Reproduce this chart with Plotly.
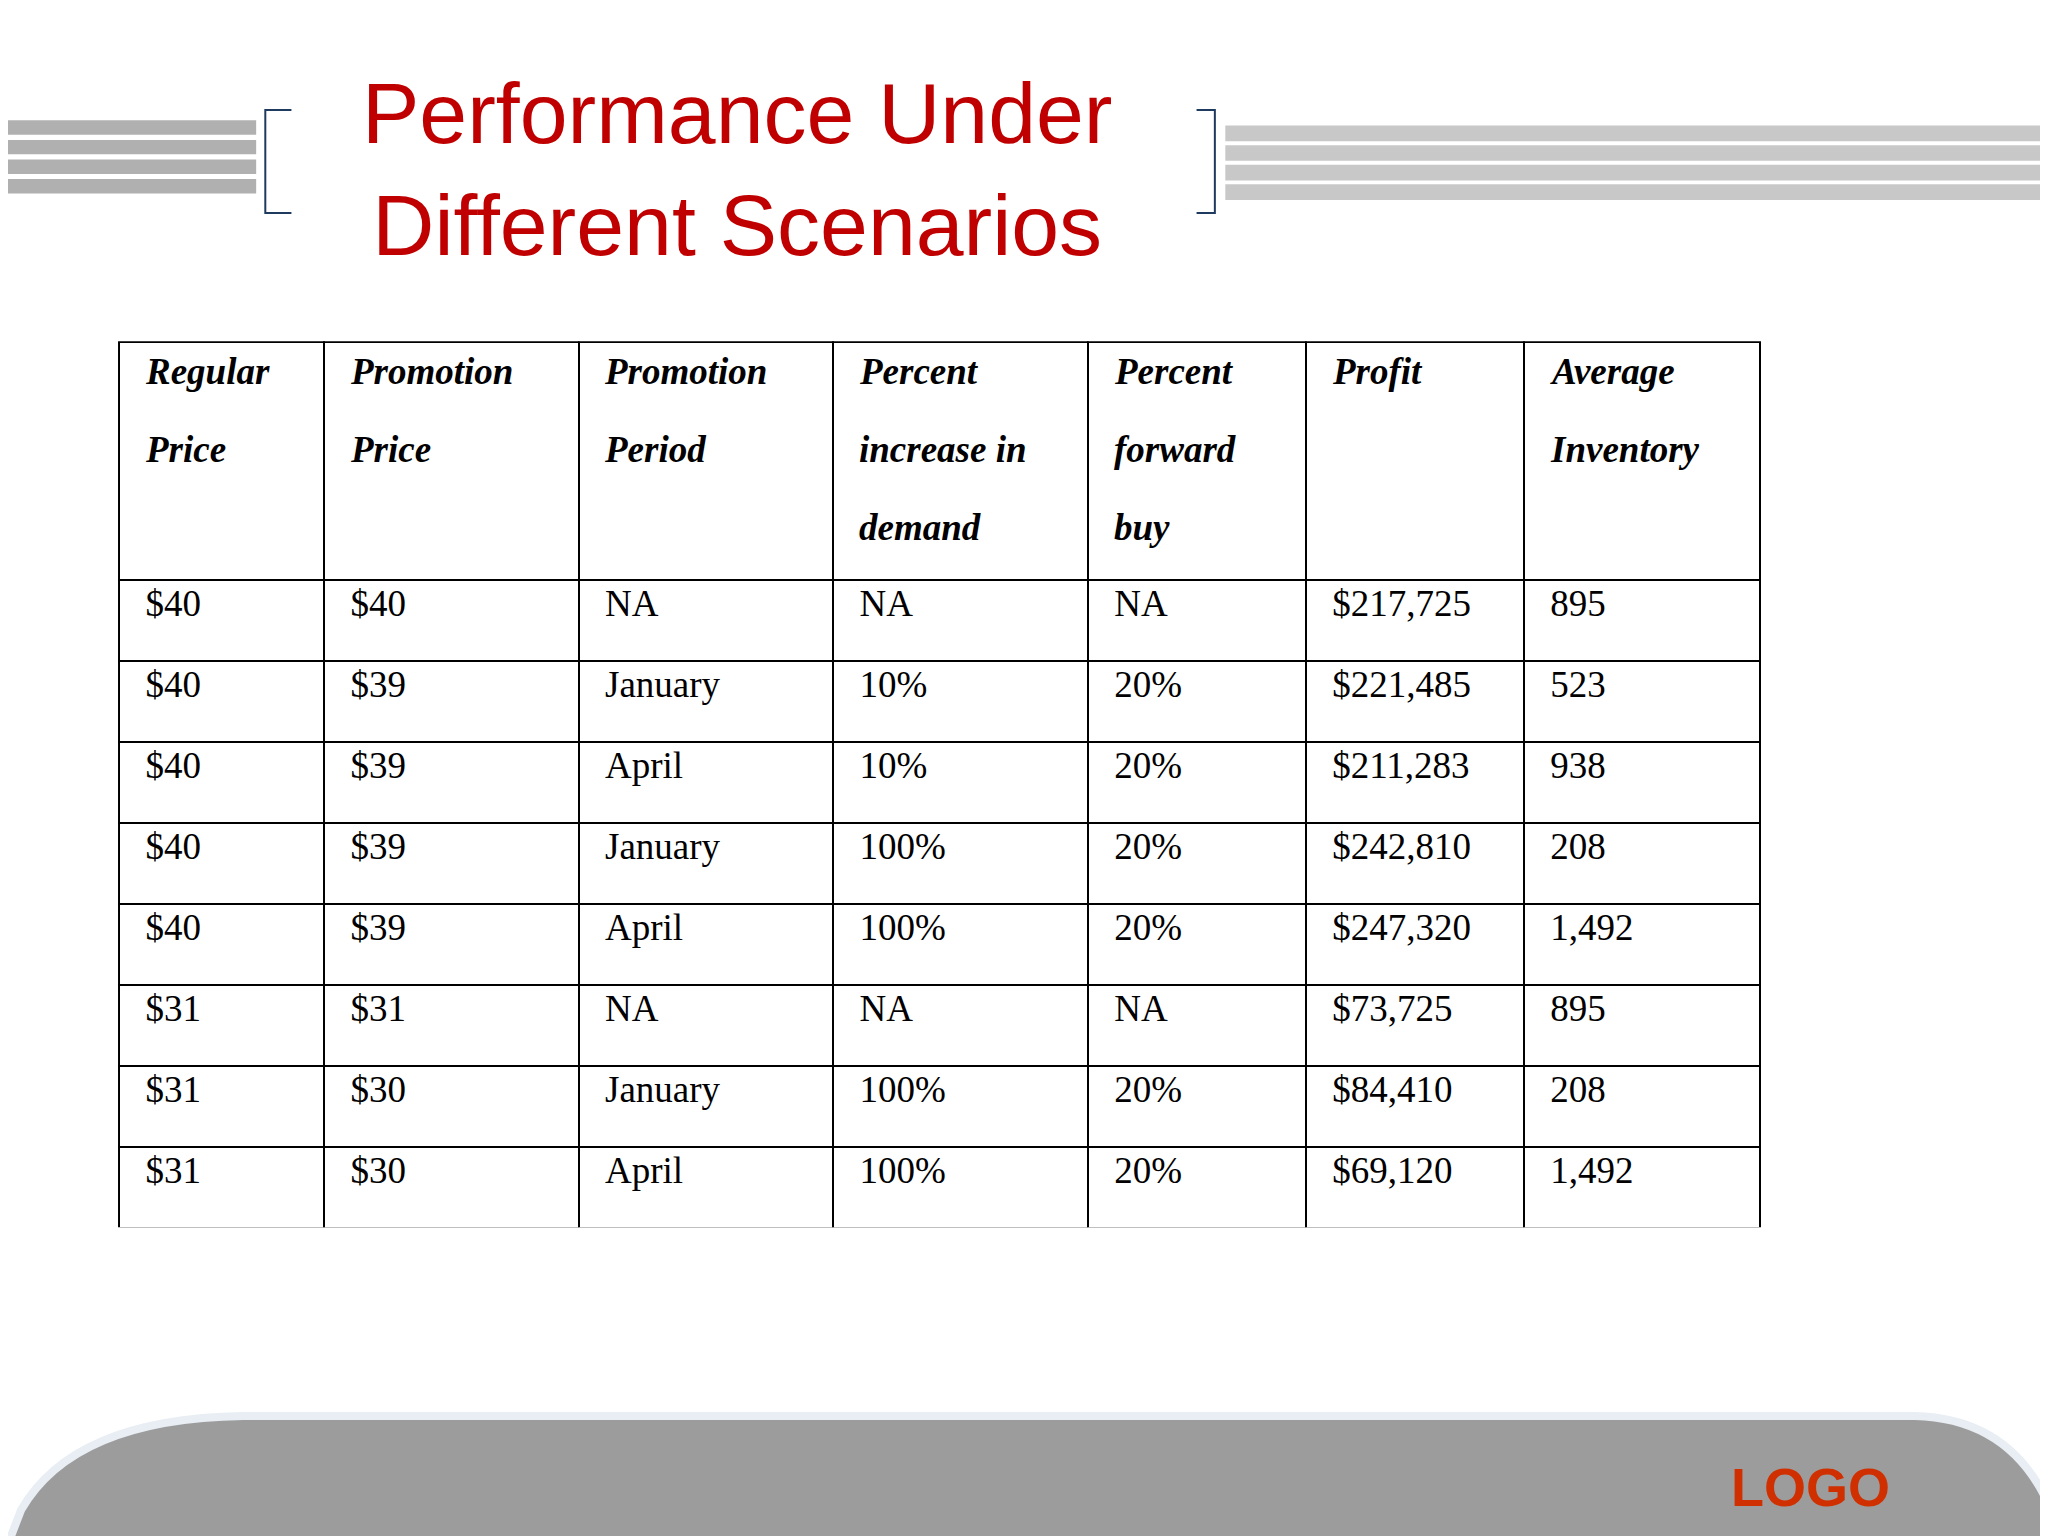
import plotly.graph_objects as go

header_lines = [["Regular", "Price"], ["Promotion", "Price"], ["Promotion", "Period"],
                ["Percent", "increase in", "demand"], ["Percent", "forward", "buy"],
                ["Profit"], ["Average", "Inventory"]]
regular_price = ["$40", "$40", "$40", "$40", "$40", "$31", "$31", "$31"]
promotion_price = ["$40", "$39", "$39", "$39", "$39", "$31", "$30", "$30"]
promotion_period = ["NA", "January", "April", "January", "April", "NA", "January", "April"]
pct_increase = ["NA", "10%", "10%", "100%", "100%", "NA", "100%", "100%"]
pct_forward = ["NA", "20%", "20%", "20%", "20%", "NA", "20%", "20%"]
profit = ["$217,725", "$221,485", "$211,283", "$242,810", "$247,320", "$73,725", "$84,410", "$69,120"]
avg_inventory = ["895", "523", "938", "208", "1,492", "895", "208", "1,492"]

W, H = 2048, 1536
s = W / 1568
def px(x): return x / 1568
def py(y): return 1 - y / 1176

col_edges = [91, 248, 443, 638, 833, 1000, 1167, 1348]
widths = [col_edges[i+1] - col_edges[i] for i in range(7)]
pad = "\u2002"
cols = [regular_price, promotion_price, promotion_period, pct_increase, pct_forward, profit, avg_inventory]

fig = go.Figure()
fig.add_trace(go.Table(
    domain=dict(x=[px(85), px(1342)], y=[py(934), py(256)]),
    columnwidth=widths,
    header=dict(values=[""] * 7, align="left", height=182*s,
                line=dict(color="black", width=2), fill=dict(color="white")),
    cells=dict(values=[[pad + v for v in c] for c in cols],
               align="left", height=62*s, line=dict(color="black", width=2),
               fill=dict(color="white"),
               font=dict(family="Liberation Serif", size=37, color="black")),
))

annotations = []
for i, lines in enumerate(header_lines):
    for j, t in enumerate(lines):
        annotations.append(dict(text="<b><i>%s</i></b>" % t, x=px(col_edges[i] + 12), y=py(278 + 60*j),
                                xref="paper", yref="paper", xanchor="left", yanchor="middle",
                                showarrow=False,
                                font=dict(family="Liberation Serif", size=37, color="black")))

shapes = []
for y0 in [86, 101, 116, 131]:
    shapes.append(dict(type="rect", xref="paper", yref="paper", x0=0, x1=px(190),
                       y0=py(y0+11), y1=py(y0), line_width=0, fillcolor="#b0b0b0"))
for y0 in [90, 105, 120, 135]:
    shapes.append(dict(type="rect", xref="paper", yref="paper", x0=px(932), x1=1,
                       y0=py(y0+12), y1=py(y0), line_width=0, fillcolor="#c8c8c8"))
shapes.append(dict(type="path", xref="paper", yref="paper",
                   path=f"M {px(217)},{py(78)} L {px(197)},{py(78)} L {px(197)},{py(157)} L {px(217)},{py(157)}",
                   line=dict(color="#1f3a5f", width=2)))
shapes.append(dict(type="path", xref="paper", yref="paper",
                   path=f"M {px(910)},{py(78)} L {px(924)},{py(78)} L {px(924)},{py(157)} L {px(910)},{py(157)}",
                   line=dict(color="#1f3a5f", width=2)))
shapes.append(dict(type="path", xref="paper", yref="paper",
                   path=f"M 0,0 L {px(10)},{py(1150)} Q {px(50)},{py(1080)} {px(180)},{py(1078)} L {px(1460)},{py(1078)} Q {px(1540)},{py(1080)} {px(1568)},{py(1160)} L 1,0 Z",
                   line=dict(color="#e8eef4", width=8), fillcolor="#9c9c9c"))

annotations += [
    dict(text="Performance Under<br>Different Scenarios", x=px(558), y=py(123), xref="paper", yref="paper",
         xanchor="center", yanchor="middle",
         showarrow=False, font=dict(family="Liberation Sans", size=86, color="#c00000")),
    dict(text="<b>LOGO</b>", x=px(1380), y=py(1132), xref="paper", yref="paper",
         xanchor="center", yanchor="middle",
         showarrow=False, font=dict(family="Liberation Sans", size=54, color="#d03000")),
]
fig.update_layout(
    width=W, height=H, margin=dict(l=0, r=0, t=0, b=0),
    paper_bgcolor="white", plot_bgcolor="white", shapes=shapes, annotations=annotations,
)
fig.write_html("out.html")
